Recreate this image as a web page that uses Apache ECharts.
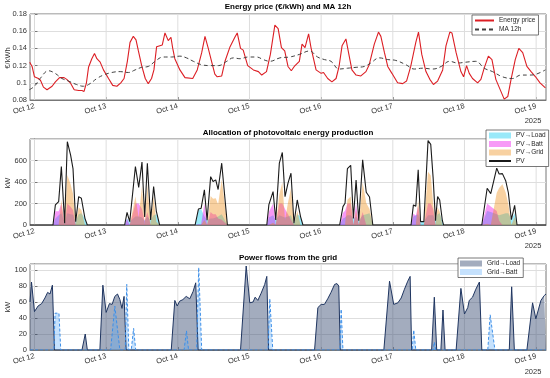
<!DOCTYPE html>
<html><head><meta charset="utf-8">
<script src="https://cdn.jsdelivr.net/npm/echarts@6/dist/echarts.min.js"></script>
<style>html,body{margin:0;padding:0;background:#fff}#c{width:550px;height:378px}</style>
</head><body><div id="c"></div>
<script>
// ---------- DATA (hours since Oct 12 00:00) ----------
const dayTicks = [0,24,48,72,96,120,144,168];
const dayNames = ['Oct 12','Oct 13','Oct 14','Oct 15','Oct 16','Oct 17','Oct 18','Oct 19'];

const priceT = [-1.6,-0.8,0.0,1.3,2.0,3.0,4.2,5.9,7.0,8.4,9.9,10.8,12.0,13.3,14.8,15.9,16.6,17.4,18.1,19.2,20.1,20.9,22.0,23.1,24.8,26.2,27.6,28.9,30.0,31.1,32.0,33.1,34.0,34.8,35.9,37.1,38.1,39.2,40.0,40.9,42.8,43.7,44.8,45.7,46.3,47.0,48.7,50.4,53.0,54.5,56.0,57.1,58.2,59.3,60.4,61.2,62.7,63.8,65.5,67.1,67.9,69.0,69.9,71.4,73.3,75.0,76.1,77.7,79.0,80.5,81.6,82.7,83.8,84.9,86.0,87.0,88.7,89.6,90.6,91.8,92.6,94.3,96.0,96.8,98.2,99.6,101.0,102.0,103.0,104.3,105.4,106.3,107.7,109.3,111.0,112.1,113.8,115.2,116.0,117.2,118.3,119.7,121.6,123.3,124.6,126.0,127.7,128.6,129.7,131.1,132.4,133.6,135.0,136.7,137.8,139.1,139.8,141.2,142.8,143.7,144.7,145.6,146.7,148.4,149.5,150.6,152.0,153.2,154.5,156.2,157.3,158.5,159.6,161.0,162.2,163.5,164.9,166.3,167.8,169.3,171.1];
const priceV = [0.124,0.119,0.107,0.105,0.103,0.095,0.092,0.096,0.101,0.106,0.106,0.104,0.100,0.092,0.091,0.091,0.090,0.100,0.118,0.128,0.134,0.128,0.124,0.115,0.105,0.097,0.096,0.100,0.105,0.125,0.147,0.154,0.150,0.137,0.120,0.105,0.099,0.105,0.115,0.142,0.144,0.158,0.149,0.153,0.140,0.128,0.115,0.106,0.105,0.115,0.135,0.154,0.140,0.125,0.110,0.107,0.108,0.125,0.142,0.153,0.158,0.140,0.138,0.120,0.115,0.113,0.109,0.113,0.133,0.167,0.163,0.141,0.137,0.119,0.114,0.119,0.125,0.145,0.141,0.157,0.141,0.115,0.111,0.112,0.105,0.101,0.105,0.119,0.143,0.151,0.131,0.115,0.109,0.108,0.113,0.121,0.145,0.159,0.154,0.135,0.119,0.111,0.100,0.099,0.102,0.119,0.147,0.159,0.133,0.113,0.104,0.098,0.102,0.115,0.143,0.159,0.158,0.135,0.113,0.107,0.120,0.111,0.105,0.100,0.104,0.117,0.131,0.127,0.104,0.090,0.081,0.084,0.104,0.127,0.140,0.135,0.119,0.113,0.107,0.100,0.094];

const maT = [-1.7,0,1.9,4.7,6.9,9.2,11.4,14.1,16.4,18.6,20.9,23.1,25.9,28.7,31.5,33.7,35.9,38.1,40.4,43.1,45.9,48.7,50.9,53.2,56.0,58.8,61.6,64.4,66.6,68.8,71.6,74.4,76.6,78.8,82.2,85.5,88.7,92.1,94.8,97.1,99.3,102.0,104.9,107.7,110.5,112.6,115.5,118.3,121.0,124.4,127.2,130.0,133.4,136.2,139.0,141.7,144.5,147.8,150.6,153.4,156.7,160.1,162.9,165.7,168.0,171.1];
const maV = [0.092,0.096,0.105,0.114,0.111,0.105,0.102,0.098,0.096,0.099,0.105,0.109,0.112,0.113,0.112,0.115,0.118,0.119,0.125,0.130,0.130,0.131,0.129,0.125,0.121,0.120,0.120,0.125,0.129,0.128,0.130,0.130,0.127,0.125,0.129,0.130,0.133,0.137,0.130,0.127,0.125,0.116,0.117,0.118,0.119,0.123,0.129,0.127,0.126,0.121,0.116,0.117,0.116,0.119,0.125,0.123,0.124,0.125,0.117,0.113,0.107,0.105,0.109,0.109,0.110,0.115];

const pvT = [-1.5,
 6.2,7.0,8.1,9.0,10.1,11.0,12.1,12.9,13.8,14.8,15.7,16.9,17.7,
 30.2,31.0,31.9,33.8,34.9,36.0,36.9,37.8,38.9,39.9,40.8,41.9,
 53.8,54.9,55.8,56.9,57.8,59.0,59.8,60.7,61.5,62.7,64.6,
 77.8,78.5,79.9,80.8,82.0,83.0,83.9,84.9,85.9,86.9,88.0,89.1,89.9,
 102.2,103.3,104.0,104.8,105.9,106.8,107.7,108.6,109.9,111.1,112.2,113.3,
 126.1,126.9,127.7,128.5,129.3,130.4,131.8,132.7,133.5,134.3,135.0,135.7,136.6,137.0,
 149.8,151.6,152.8,154.8,155.6,156.7,157.8,158.7,159.7,160.8,161.6,
 171.3];
const pvV = [0,
 0,187,218,544,16,775,650,525,30,264,249,62,0,
 0,118,31,544,350,585,75,575,47,358,130,0,
 0,148,155,327,45,450,404,420,330,575,0,
 0,190,311,47,575,675,264,389,482,16,233,78,0,
 0,171,202,525,555,60,418,40,606,305,260,0,
 0,187,175,513,31,31,785,750,440,40,264,233,40,0,
 0,342,292,529,475,478,412,300,50,182,0,
 0];
const pvLoadV = [0,
 0,60,90,110,16,110,100,95,30,100,110,62,0,
 0,60,31,80,80,70,40,80,47,90,100,0,
 0,140,150,80,45,60,60,70,80,100,0,
 0,70,90,47,90,80,70,80,90,16,100,78,0,
 0,60,70,90,90,60,80,40,90,100,110,0,
 0,80,90,100,31,31,90,90,90,40,100,110,40,0,
 0,130,120,100,90,100,110,110,50,110,0,
 0];
const pvBattV = [0,
 0,127,128,200,0,200,170,140,0,0,0,0,0,
 0,58,0,200,200,150,35,120,0,0,0,0,
 0,8,5,200,0,120,100,100,60,50,0,
 0,120,200,0,200,200,150,100,50,0,0,0,0,
 0,111,132,200,200,0,200,0,120,0,0,0,
 0,107,85,180,0,0,200,200,150,0,0,0,0,0,
 0,200,172,130,40,0,0,0,0,0,0,
 0];
const pvGridV = [0,
 0,0,0,234,0,465,380,290,0,164,139,0,0,
 0,0,0,264,70,365,0,375,0,268,30,0,
 0,0,0,47,0,270,244,250,190,425,0,
 0,0,21,0,285,395,44,209,342,0,133,0,0,
 0,0,0,235,265,0,138,0,396,205,150,0,
 0,0,0,233,0,0,495,460,200,0,164,123,0,0,
 0,12,0,299,345,378,302,190,0,72,0,
 0];

const gLoadT = [-1.5,-1.0,0.0,1.2,2.4,3.5,4.4,5.2,6.0,6.7, 15.9,17.0,17.7, 21.9,22.9,24.0,25.1,26.0,26.9,27.8,28.6,29.3,30.0,30.7, 45.8,47.0,47.8,48.6,49.7,50.8,52.0,53.1,54.0,54.8, 69.0,70.9,72.1,73.2,73.9,74.8,75.9,77.1,77.8,78.4, 93.8,94.9,96.0,97.1,98.2,99.3,100.5,101.3,101.9,102.4, 117.0,118.9,120.3,121.7,122.8,123.9,125.0,125.8,126.3, 133.0,133.9,134.7, 136.1,136.8,137.5, 141.2,142.8,144.0,145.1,145.6,146.7,147.8,149.0,149.8, 159.0,159.8,160.7, 164.9,166.8,167.9,169.6,170.7,171.3];
const gLoadV = [60,85,48,55,58,65,72,70,81,0, 0,20,0, 0,81,47,58,57,67,70,63,52,67,0, 0,62,55,61,63,67,64,73,84,0, 0,105,59,60,66,62,71,82,92,0, 0,53,57,57,64,72,82,83,80,0, 0,86,57,59,65,76,86,92,0, 0,66,0, 0,50,0, 0,77,45,53,62,66,76,85,0, 0,79,0, 0,59,39,62,68,70];

const gBattT = [-1.5,6.5,6.9,8.2,8.8, 25.5,26.9,28.6, 30.4,30.9,31.6, 32.4,33.2,33.9, 50.1,50.9,51.6, 54.3,55.0,56.0, 78.2,78.8,79.8, 102.3,102.7,103.3, 126.5,127.0,127.7, 133.5,133.9,134.4, 151.8,152.6,153.1,154.2, 171.3];
const gBattV = [0,0,46,46,0, 0,55,0, 0,82,0, 0,27,0, 0,24,0, 0,103,0, 0,64,0, 0,51,0, 0,25,0, 0,10,0, 0,44,46,0, 0];

// ---------- CHART ----------
const zip = (t, v) => t.map((x, i) => [x, v[i]]);
const FONT = 'Liberation Sans';
const gridTops = [14, 139, 264];
const yDefs = [
  {min:0.08, max:0.18, interval:0.02, fmt:v => String(+v.toFixed(2))},
  {min:0, max:800, interval:200, fmt:v => String(v)},
  {min:0, max:107.5, interval:20, fmt:v => String(v)}
];
const legendText = {fontSize:6.5, color:'#262626', fontFamily:FONT};
const noSym = {opacity:0};
const T = (x, y, text, font, fill, rot) => ({type:'text', x, y, rotation:rot || 0, z:100,
  style:{text, font, fill, align:'center', verticalAlign:'middle', textAlign:'center', textVerticalAlign:'middle'}});
// vertical day grid lines, one line series per grid with null gaps
const dayGrid = i => {
  const d = [];
  dayTicks.forEach(t => { d.push([t, yDefs[i].min]); d.push([t, yDefs[i].max]); d.push([t, null]); });
  return {type:'line', xAxisIndex:i, yAxisIndex:i, z:1, silent:true, symbol:'none', connectNulls:false,
    lineStyle:{color:'#dedede', width:1}, data:d};
};

const option = {
  animation: false,
  backgroundColor: '#fff',
  textStyle: {fontFamily: FONT},
  grid: gridTops.map(t => ({left:30, right:4, top:t, height:86, containLabel:false, outerBoundsMode:'none', show:true, borderColor:'#777', borderWidth:1, backgroundColor:'transparent'})),
  xAxis: gridTops.map((t, i) => ({
    gridIndex:i, type:'value', min:-1.5, max:171.3,
    axisLine:{show:true, lineStyle:{color:'#777'}},
    axisTick:{show:true, inside:true, length:3, customValues:dayTicks, lineStyle:{color:'#777'}},
    axisLabel:{customValues:dayTicks, formatter:v => dayNames[Math.round(v/24)], rotate:15, fontSize:7.5, color:'#333', margin:6, fontFamily:FONT},
    splitLine:{show:false}
  })),
  yAxis: yDefs.map((d, i) => ({
    gridIndex:i, type:'value', min:d.min, max:d.max, interval:d.interval,
    axisLine:{show:true, lineStyle:{color:'#777'}},
    axisTick:{show:true, inside:true, length:3, lineStyle:{color:'#777'}},
    axisLabel:{formatter:d.fmt, fontSize:7.5, color:'#333', margin:3, showMaxLabel: i === 0, fontFamily:FONT},
    splitLine:{show:true, lineStyle:{color:'#dedede', width:1}}
  })),
  legend: [
    {data:[{name:'Energy price', itemStyle:noSym},{name:'MA 12h', itemStyle:noSym}], left:472, top:15, orient:'vertical', itemWidth:19, itemHeight:6, itemGap:2, itemTextGap:4,
     padding:[2,3,2,2], borderColor:'#555', borderWidth:0.8, backgroundColor:'#fff', textStyle:legendText},
    {data:[{name:'PV→Load', icon:'rect'},{name:'PV→Batt', icon:'rect'},{name:'PV→Grid', icon:'rect'},{name:'PV', itemStyle:noSym}],
     left:486, top:130, orient:'vertical', itemWidth:22, itemHeight:6, itemGap:1.5, itemTextGap:4,
     padding:[2,3,2,2], borderColor:'#555', borderWidth:0.8, backgroundColor:'#fff', textStyle:legendText},
    {data:[{name:'Grid→Load', icon:'rect'},{name:'Grid→Batt', icon:'rect'}], left:458, top:258, orient:'vertical', itemWidth:22, itemHeight:6, itemGap:1.5, itemTextGap:4,
     padding:[2,3,2,2], borderColor:'#555', borderWidth:0.8, backgroundColor:'#fff', textStyle:legendText}
  ],
  graphic: [
    T(288, 7, 'Energy price (€/kWh) and MA 12h', 'bold 8px Liberation Sans', '#000'),
    T(288, 133, 'Allocation of photovoltaic energy production', 'bold 8px Liberation Sans', '#000'),
    T(288, 258, 'Power flows from the grid', 'bold 8px Liberation Sans', '#000'),
    T(533, 121, '2025', '7.5px Liberation Sans', '#333'),
    T(533, 246, '2025', '7.5px Liberation Sans', '#333'),
    T(533, 372, '2025', '7.5px Liberation Sans', '#333'),
    T(8, 58, '€/kWh', '7.5px Liberation Sans', '#333', Math.PI/2),
    T(8, 183, 'kW', '7.5px Liberation Sans', '#333', Math.PI/2),
    T(8, 307, 'kW', '7.5px Liberation Sans', '#333', Math.PI/2)
  ],
  series: [
    dayGrid(0), dayGrid(1), dayGrid(2),
    {name:'Energy price', type:'line', xAxisIndex:0, yAxisIndex:0, symbol:'none', color:'#dc1e24', lineStyle:{width:1.1, color:'#dc1e24'}, data:zip(priceT, priceV)},
    {name:'MA 12h', type:'line', xAxisIndex:0, yAxisIndex:0, symbol:'none', smooth:0.4, color:'#404040', lineStyle:{width:1, type:[4,3], color:'#404040'}, data:zip(maT, maV)},
    {name:'PV→Load', type:'line', xAxisIndex:1, yAxisIndex:1, symbol:'none', color:'rgba(0,200,240,0.4)', lineStyle:{width:0, opacity:0}, areaStyle:{color:'rgba(0,200,240,0.4)', opacity:1}, data:zip(pvT, pvLoadV)},
    {name:'PV→Batt', type:'line', xAxisIndex:1, yAxisIndex:1, symbol:'none', color:'rgba(235,0,235,0.4)', lineStyle:{width:0, opacity:0}, areaStyle:{color:'rgba(235,0,235,0.4)', opacity:1}, data:zip(pvT, pvBattV)},
    {name:'PV→Grid', type:'line', xAxisIndex:1, yAxisIndex:1, symbol:'none', color:'rgba(238,140,20,0.4)', lineStyle:{width:0, opacity:0}, areaStyle:{color:'rgba(238,140,20,0.4)', opacity:1}, data:zip(pvT, pvGridV)},
    {name:'PV', type:'line', xAxisIndex:1, yAxisIndex:1, symbol:'none', color:'#1a1a1a', lineStyle:{width:1.1, color:'#1a1a1a'}, data:zip(pvT, pvV)},
    {name:'Grid→Load', type:'line', xAxisIndex:2, yAxisIndex:2, symbol:'none', color:'rgba(50,70,110,0.45)', lineStyle:{width:1, color:'#1f3560'}, areaStyle:{color:'rgba(50,70,110,0.45)', opacity:1}, data:zip(gLoadT, gLoadV)},
    {name:'Grid→Batt', type:'line', xAxisIndex:2, yAxisIndex:2, symbol:'none', color:'rgba(90,170,250,0.35)', lineStyle:{width:1, type:[3,2], color:'#3d8fe8'}, areaStyle:{color:'rgba(90,170,250,0.35)', opacity:1}, data:zip(gBattT, gBattV)}
  ]
};
const chart = echarts.init(document.getElementById('c'), null, {renderer:'canvas'});
chart.setOption(option);
</script></body></html>
